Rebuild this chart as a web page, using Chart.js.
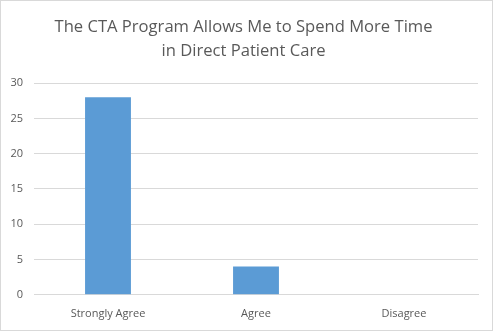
<!DOCTYPE html>
<html>
<head>
<meta charset="utf-8">
<script src="https://cdn.jsdelivr.net/npm/chart.js@4"></script>
<style>
  html, body { margin: 0; padding: 0; background: #fff; }
  #wrap { width: 491px; height: 329px; border: 1px solid #d9d9d9; }
</style>
</head>
<body>
<div id="wrap"><canvas id="chart" width="491" height="329"></canvas></div>
<script>
const categories = ['Strongly Agree', 'Agree', 'Disagree'];
const responses = [28, 4, 0];
const titleLines = ['The CTA Program Allows Me to Spend More Time', 'in Direct Patient Care'];

const ctx = document.getElementById('chart').getContext('2d');
new Chart(ctx, {
    type: 'bar',
    data: {
        labels: categories,
        datasets: [{
            data: responses,
            backgroundColor: '#5b9bd5',
            barPercentage: 0.31,
            categoryPercentage: 1
        }]
    },
    options: {
        responsive: false,
        animation: false,
        layout: { padding: { left: 8, right: 14, bottom: 6 } },
        plugins: {
            legend: { display: false },
            tooltip: { enabled: false },
            title: {
                display: true,
                text: titleLines,
                color: '#595959',
                font: { family: 'Open Sans', size: 16.6, weight: 'normal', lineHeight: 1.45 },
                padding: { top: 14, bottom: 20 }
            }
        },
        scales: {
            y: {
                min: 0,
                max: 30,
                afterFit: function (scale) {
                    scale.width = 25; // keep plot left edge where the original has it
                },
                ticks: {
                    stepSize: 5,
                    color: '#595959',
                    font: { family: 'Open Sans', size: 11 },
                    padding: 11
                },
                grid: { color: '#d9d9d9', drawTicks: false },
                border: { display: false }
            },
            x: {
                ticks: {
                    color: '#595959',
                    font: { family: 'Open Sans', size: 11 },
                    padding: 4
                },
                grid: { display: false },
                border: { color: '#d9d9d9' }
            }
        }
    }
});
</script>
</body>
</html>
